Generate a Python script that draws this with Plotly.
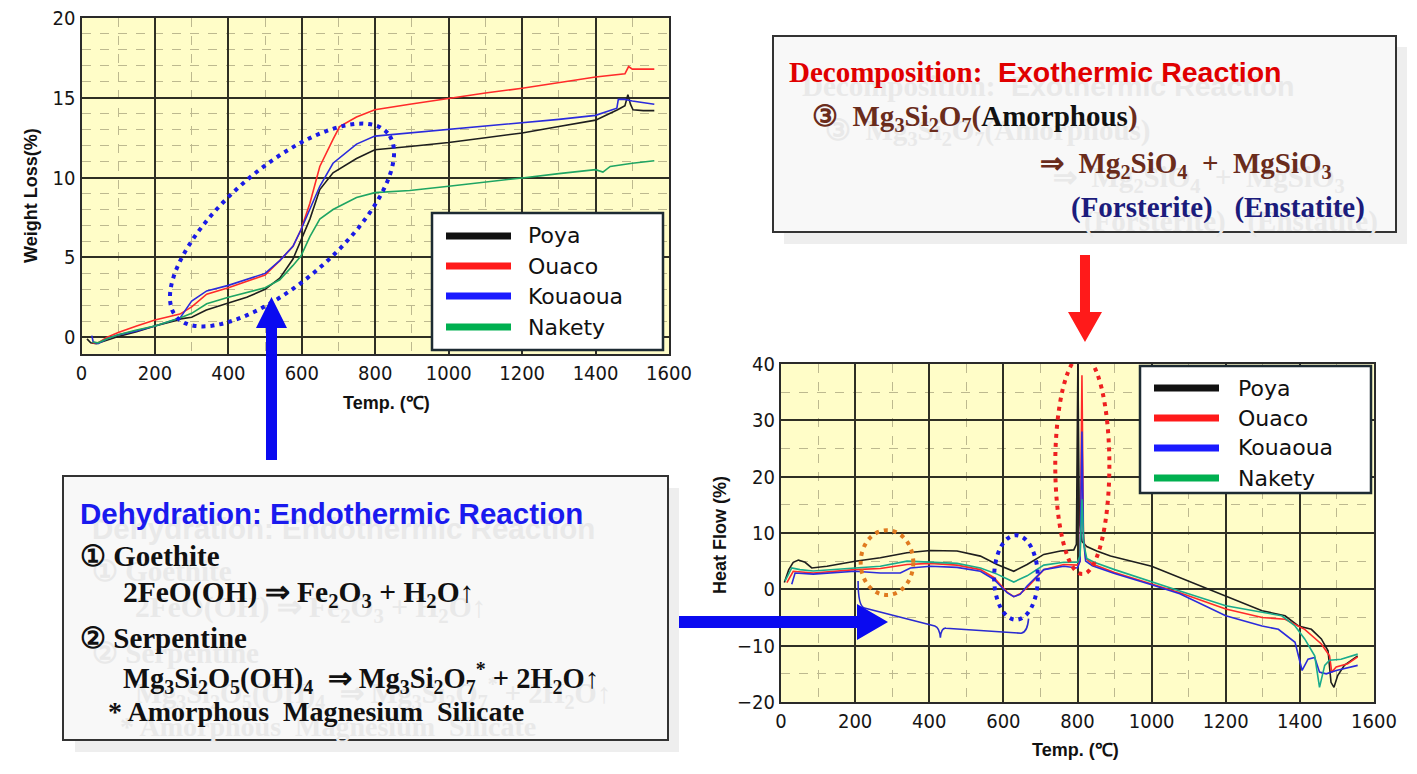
import numpy as np
import plotly.graph_objects as go

W, H = 1417, 774
def fx(x): return x / W
def fy(y): return 1 - y / H

# ---------------- DATA ----------------
series_names = ["Poya", "Ouaco", "Kouaoua", "Nakety"]

# TGA (weight loss %) vs temperature
tga_poya_t = [15, 25, 40, 60, 100, 150, 200, 250, 270, 300, 340, 400, 450, 500, 540, 576, 598, 622, 649, 685, 749, 799, 894, 1000, 1100, 1200, 1300, 1400, 1460, 1480, 1488, 1495, 1502, 1530, 1560]
tga_poya_w = [-0.1, -0.35, -0.4, -0.25, 0.05, 0.35, 0.7, 1.0, 1.15, 1.25, 1.7, 2.15, 2.5, 3.0, 3.7, 4.9, 6.1, 7.4, 9.25, 10.3, 11.2, 11.75, 11.95, 12.2, 12.5, 12.8, 13.2, 13.6, 14.25, 14.5, 15.2, 14.6, 14.25, 14.2, 14.2]
tga_ouaco_t = [30, 45, 70, 100, 150, 200, 268, 300, 341, 400, 500, 540, 576, 598, 622, 649, 685, 703, 749, 799, 894, 1000, 1100, 1200, 1300, 1400, 1480, 1490, 1500, 1560]
tga_ouaco_w = [-0.35, -0.35, 0.0, 0.3, 0.7, 1.08, 1.45, 1.9, 2.7, 3.1, 3.9, 4.8, 5.7, 6.75, 8.4, 10.7, 12.4, 13.2, 13.8, 14.25, 14.6, 14.98, 15.3, 15.6, 15.95, 16.3, 16.5, 16.96, 16.8, 16.8]
tga_kouaoua_t = [28, 32, 45, 70, 100, 150, 200, 268, 300, 341, 400, 500, 540, 576, 598, 622, 649, 685, 749, 799, 894, 1000, 1100, 1200, 1300, 1400, 1458, 1462, 1480, 1500, 1560]
tga_kouaoua_w = [0.1, -0.3, -0.4, -0.1, 0.15, 0.4, 0.7, 1.2, 2.27, 2.9, 3.25, 4.0, 4.8, 5.7, 6.75, 8.0, 9.46, 10.9, 12.1, 12.6, 12.8, 13.0, 13.2, 13.4, 13.65, 13.9, 14.35, 14.9, 14.9, 14.8, 14.6]
tga_nakety_t = [30, 45, 70, 100, 150, 200, 268, 300, 341, 400, 500, 540, 576, 598, 622, 649, 685, 749, 799, 894, 1000, 1100, 1200, 1300, 1400, 1420, 1440, 1500, 1560]
tga_nakety_w = [-0.3, -0.35, -0.1, 0.15, 0.45, 0.7, 1.2, 1.5, 2.1, 2.5, 3.1, 3.6, 4.5, 5.1, 6.3, 7.4, 8.0, 8.75, 9.06, 9.19, 9.46, 9.7, 9.98, 10.25, 10.5, 10.35, 10.7, 10.9, 11.06]

# DTA (heat flow %) vs temperature
dta_poya_t = [9, 21, 33, 47, 65, 83, 124, 200, 268, 340, 403, 475, 538, 583, 628, 664, 709, 754, 790, 797, 801, 805, 812, 825, 852, 889, 1000, 1076, 1135, 1200, 1298, 1360, 1396, 1431, 1458, 1476, 1484, 1492, 1502, 1520, 1556]
dta_poya_h = [1.2, 3.5, 4.8, 5.2, 4.8, 3.8, 4.1, 5.0, 5.6, 6.5, 6.9, 6.8, 5.9, 4.4, 3.2, 4.4, 6.2, 6.8, 7.0, 8.0, 40, 12, 8.5, 7.6, 6.8, 5.9, 4.1, 2.1, 0.6, -1.2, -3.8, -4.7, -6.5, -7.1, -8.8, -10.9, -16.5, -17.4, -15.3, -13.5, -11.8]
dta_ouaco_t = [16, 33, 87, 200, 268, 340, 403, 475, 538, 574, 610, 628, 645, 664, 709, 763, 800, 807, 812, 816, 822, 840, 900, 1000, 1076, 1200, 1298, 1360, 1413, 1458, 1480, 1486, 1498, 1529, 1556]
dta_ouaco_h = [1.2, 3.2, 2.9, 3.5, 3.7, 4.4, 4.6, 4.3, 3.5, 2.1, -0.5, -1.3, -0.8, 0.3, 3.5, 4.4, 4.3, 5.0, 38, 10, 5.5, 4.5, 3.0, 1.0, -0.6, -3.5, -5.0, -5.3, -7.1, -9.7, -11.8, -14.7, -13.8, -13.2, -12.0]
dta_kouaoua_t = [29, 38, 87, 200, 268, 322, 349, 403, 475, 538, 574, 610, 628, 645, 664, 709, 763, 800, 807, 812, 816, 822, 840, 900, 1000, 1076, 1200, 1298, 1342, 1387, 1406, 1422, 1440, 1453, 1471, 1498, 1556]
dta_kouaoua_h = [0.9, 2.9, 2.7, 3.2, 2.9, 2.9, 3.8, 4.1, 3.9, 3.2, 1.8, -0.6, -1.3, -0.9, 0.6, 3.5, 4.1, 3.8, 5.0, 28, 9, 5.0, 4.2, 2.8, 0.8, -0.8, -4.7, -6.5, -7.1, -9.4, -14.4, -12.4, -12.1, -14.7, -15.0, -14.4, -13.5]
dta_nakety_t = [11, 29, 51, 87, 200, 268, 340, 403, 475, 538, 583, 628, 664, 709, 763, 800, 807, 812, 817, 825, 845, 900, 1000, 1076, 1200, 1298, 1351, 1387, 1413, 1440, 1453, 1467, 1480, 1511, 1556]
dta_nakety_h = [1.5, 3.8, 3.5, 3.25, 3.8, 4.1, 5.0, 4.8, 4.6, 3.8, 2.7, 1.3, 2.4, 4.3, 4.8, 4.8, 6.0, 16, 8.0, 5.5, 4.8, 3.5, 1.3, -0.3, -2.9, -4.1, -4.7, -6.5, -8.8, -11.8, -17.4, -13.5, -12.6, -12.4, -11.5]

# ---------------- FIGURE ----------------
tga_x = [tga_poya_t, tga_ouaco_t, tga_kouaoua_t, tga_nakety_t]
tga_y = [tga_poya_w, tga_ouaco_w, tga_kouaoua_w, tga_nakety_w]
dta_x = [dta_poya_t, dta_ouaco_t, dta_kouaoua_t, dta_nakety_t]
dta_y = [dta_poya_h, dta_ouaco_h, dta_kouaoua_h, dta_nakety_h]
col_tga = ['#1e1e1e', '#ff2a2a', '#2b2bdc', '#1fa563']
col_dta = ['#1e1e1e', '#ff2a2a', '#2b2bdc', '#19ab8c']
col_leg = ['#111111', '#ff1a1a', '#1a1aff', '#00b050']

fig = go.Figure()
for i, n in enumerate(series_names):
    fig.add_trace(go.Scatter(x=tga_x[i], y=tga_y[i], mode='lines', name=n, showlegend=False,
                             line=dict(color=col_tga[i], width=1.6), xaxis='x', yaxis='y'))
for i, n in enumerate(series_names):
    fig.add_trace(go.Scatter(x=dta_x[i], y=dta_y[i], mode='lines', name=n, showlegend=False,
                             line=dict(color=col_dta[i], width=1.6), xaxis='x2', yaxis='y2'))

tickfont = dict(family='Liberation Sans Narrow, DejaVu Sans Condensed, sans-serif', size=20, color='#151515')
common = dict(showline=True, mirror=True, linecolor='#2a2a2a', linewidth=2, showgrid=True,
              gridcolor='#2f2f24', gridwidth=1.8, zeroline=False, ticks='', tickfont=tickfont)
minor_grid = dict(showgrid=True, gridcolor='#bdb98f', griddash='dash', gridwidth=1)

fig.update_layout(
    width=W, height=H, margin=dict(l=0, r=0, t=0, b=0, pad=0, autoexpand=False),
    paper_bgcolor='white', plot_bgcolor='#fffdc8', showlegend=False,
    xaxis=dict(domain=[fx(81.5), fx(669)], range=[0, 1600], dtick=200, anchor='y',
               minor=dict(dtick=100, **minor_grid), **common),
    yaxis=dict(domain=[fy(354), fy(18)], range=[-1.05, 20], dtick=5, anchor='x',
               minor=dict(dtick=1, **minor_grid), **common),
    xaxis2=dict(domain=[fx(781), fx(1374)], range=[0, 1600], dtick=200, anchor='y2',
                minor=dict(dtick=100, **minor_grid), **common),
    yaxis2=dict(domain=[fy(702), fy(364)], range=[-20, 40], dtick=10, anchor='x2',
                minor=dict(dtick=5, **minor_grid), **common),
)

shapes = []
ann = []

def rect(x0, y0, x1, y1, fill, line='#333', lw=2):
    shapes.append(dict(type='rect', xref='paper', yref='paper', x0=fx(x0), x1=fx(x1), y0=fy(y1), y1=fy(y0),
                       fillcolor=fill, line=dict(color=line, width=lw), layer='above'))

def poly(pts, color):
    d = 'M ' + ' L '.join(f'{fx(x):.5f},{fy(y):.5f}' for x, y in pts) + ' Z'
    shapes.append(dict(type='path', xref='paper', yref='paper', path=d, fillcolor=color,
                       line=dict(color=color, width=0), layer='above'))

def text(x, y, s, size, color, family, anchor='left', angle=0, ghost=None, ghost_text=None):
    if ghost:
        ann.append(dict(x=fx(x + ghost[0]), y=fy(y + ghost[1]), xref='paper', yref='paper',
                        text=ghost_text if ghost_text else s,
                        showarrow=False, xanchor=anchor, yanchor='middle', textangle=angle,
                        font=dict(size=size, color='#e9e9e9', family=family)))
    ann.append(dict(x=fx(x), y=fy(y), xref='paper', yref='paper', text=s, showarrow=False,
                    xanchor=anchor, yanchor='middle', textangle=angle,
                    font=dict(size=size, color=color, family=family)))

SANS = 'Liberation Sans, Arial, sans-serif'
SERIF = 'Liberation Serif, Times New Roman, serif'
LEGF = 'DejaVu Sans, sans-serif'

# axis titles
text(31, 196, '<b>Weight Loss(%)</b>', 18, '#111', SANS, 'center', -90)
text(386, 403, '<b>Temp. (℃)</b>', 18, '#111', SANS, 'center')
text(720, 535, '<b>Heat Flow (%)</b>', 18, '#111', SANS, 'center', -90)
text(1075, 750, '<b>Temp. (℃)</b>', 18, '#111', SANS, 'center')

# legends
def legend(x0, y0, x1, y1, ys, lx0, lx1, tx):
    rect(x0, y0, x1, y1, 'white', '#1d2b33', 2.5)
    for i, n in enumerate(series_names):
        shapes.append(dict(type='line', xref='paper', yref='paper', x0=fx(lx0), x1=fx(lx1), y0=fy(ys[i]), y1=fy(ys[i]),
                           line=dict(color=col_leg[i], width=7), layer='above'))
        text(tx, ys[i], n, 22, '#111', LEGF)

legend(432, 213, 663, 350, [236, 266, 296, 327], 446, 511, 526)
legend(1140, 366, 1371, 493, [388, 418, 448, 478], 1154, 1219, 1236)

# top-plot dotted ellipse (rotated)
t = np.linspace(0, 2 * np.pi, 120)
cx, cy, a, b, th = 282, 225, 140, 57, np.deg2rad(41)
ex = cx + a * np.cos(t) * np.cos(th) - b * np.sin(t) * np.sin(th)
ey = cy - (a * np.cos(t) * np.sin(th) + b * np.sin(t) * np.cos(th))
d = 'M ' + ' L '.join(f'{fx(x):.5f},{fy(y):.5f}' for x, y in zip(ex, ey)) + ' Z'
shapes.append(dict(type='path', xref='paper', yref='paper', path=d, line=dict(color='#1a1ae6', width=4, dash='4px,5px'),
                   layer='above'))

# bottom-plot dotted ellipses
for (x0, x1, y0, y1, c) in [(215, 357, -1.0, 10.5, '#e07b20'), (575, 693, -5.4, 9.6, '#1a1ae6'), (740, 886, 2.7, 41.5, '#ee2020')]:
    shapes.append(dict(type='circle', xref='x2', yref='y2', x0=x0, x1=x1, y0=y0, y1=y1,
                       line=dict(color=c, width=4, dash='4px,5px'), layer='above'))

# bracket
shapes.append(dict(type='path', xref='x2', yref='y2',
                   path='M 208,1.5 Q 208,-3 225,-3.3 L 415,-6.5 Q 428,-6.8 430,-8.6 Q 432,-6.8 445,-6.9 L 648,-7.8 Q 665,-7.6 668,-5.2',
                   line=dict(color='#2a2ad0', width=1.6), layer='above'))

# arrows
poly([(266, 460), (266, 328), (256, 328), (271.5, 297), (287, 328), (277, 328), (277, 460)], '#0a0af0')
poly([(678, 616), (857, 616), (857, 604), (888, 622), (857, 640), (857, 628), (678, 628)], '#0a0af0')
poly([(1080, 255), (1090, 255), (1090, 312), (1102, 312), (1085, 342), (1068, 312), (1080, 312)], '#ff1a1a')

# text box 1
rect(75, 488, 679, 752, '#eeeeee', '#eeeeee', 0)
rect(63, 476, 668, 740, '#f8f8f8', '#333', 2)
g = (12, 15)
text(78, 513, '<b>Dehydration: Endothermic Reaction</b>', 29.5, '#1a1aee', SANS, ghost=g)
text(78, 556, '<b>① Goethite</b>', 29, '#111', SERIF, ghost=g)
text(121, 594, '<b>2FeO(OH) ⇒ Fe<sub>2</sub>O<sub>3</sub> + H<sub>2</sub>O↑</b>', 29.5, '#111', SERIF, ghost=g)
text(78, 638, '<b>② Serpentine</b>', 29, '#111', SERIF, ghost=g)
text(121, 678, '<b>Mg<sub>3</sub>Si<sub>2</sub>O<sub>5</sub>(OH)<sub>4</sub>  ⇒ Mg<sub>3</sub>Si<sub>2</sub>O<sub>7</sub><sup>*</sup> + 2H<sub>2</sub>O↑</b>', 28.5, '#111', SERIF, ghost=g)
text(106, 711, '<b>* Amorphous  Magnesium  Silicate</b>', 28, '#111', SERIF, ghost=g)

# text box 2
rect(784, 47, 1407, 244, '#eeeeee', '#eeeeee', 0)
rect(773, 36, 1396, 232, '#f8f8f8', '#333', 2)
g2 = (13, 14)
text(787, 72, '<b>Decomposition:</b>', 29, '#e00000', SERIF, ghost=g2)
text(996, 72, '<b>Exothermic Reaction</b>', 28.5, '#e00000', SANS, ghost=g2)
BR = '#6a2c1c'
text(810, 118, "<b>③  Mg<sub>3</sub>Si<sub>2</sub>O<sub>7</sub>(<span style='color:#111'>Amorphous</span>)</b>", 29, BR, SERIF,
     ghost=g2, ghost_text='<b>③  Mg<sub>3</sub>Si<sub>2</sub>O<sub>7</sub>(Amorphous)</b>')
text(1038, 165, '<b>⇒  Mg<sub>2</sub>SiO<sub>4</sub>  +  MgSiO<sub>3</sub></b>', 29, BR, SERIF, ghost=g2)
text(1069, 207, '<b>(Forsterite)   (Enstatite)</b>', 29, '#1c1c7c', SERIF, ghost=g2)

fig.update_layout(shapes=shapes, annotations=ann)
fig.write_html('out.html', config={'displayModeBar': False},
               post_script="document.body.style.margin='0';document.body.style.overflow='hidden';")
